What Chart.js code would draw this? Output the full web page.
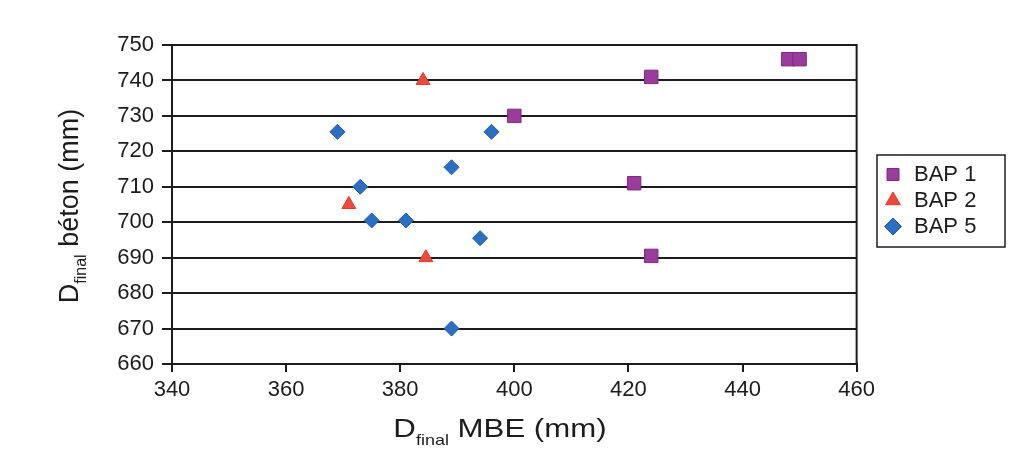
<!DOCTYPE html>
<html>
<head>
<meta charset="utf-8">
<script src="https://cdn.jsdelivr.net/npm/chart.js@4"></script>
<style>
  body { margin: 0; background: #fff; }
  #wrap { width: 1016px; height: 452px; }
</style>
</head>
<body>
<div id="wrap"><canvas id="chart" width="1016" height="452"></canvas></div>
<script>
const bap1X = [448, 450, 424, 400, 421, 424];
const bap1Y = [746, 746, 741, 730, 711, 690.5];
const bap2X = [384, 371, 384.5];
const bap2Y = [740, 705, 690];
const bap5X = [369, 396, 389, 373, 375, 381, 394, 389];
const bap5Y = [725.5, 725.5, 715.5, 710, 700.5, 700.5, 695.5, 670];
const xTicks = [340, 360, 380, 400, 420, 440, 460];
const yTicks = [660, 670, 680, 690, 700, 710, 720, 730, 740, 750];

const FONT = "'Liberation Sans', Arial, sans-serif";
const ink = "#1c1c1c";

function pts(xs, ys) {
    return xs.map((x, i) => ({ x: x, y: ys[i] }));
}

const extras = {
    id: "extras",
    afterLayout(chart) {
        // move the legend block to where it sits in the original
        const lg = chart.legend;
        const w = lg.width, h = lg.height;
        lg.left = 879; lg.right = 879 + w;
        lg.top -= 48; lg.bottom -= 48;
    },
    afterDraw(chart) {
        const ctx = chart.ctx;
        const a = chart.chartArea;
        ctx.save();
        ctx.strokeStyle = ink;
        ctx.lineWidth = 2;
        ctx.beginPath();
        ctx.moveTo(a.left, a.top);
        ctx.lineTo(a.right, a.top);
        ctx.lineTo(a.right, a.bottom);
        ctx.stroke();

        ctx.lineWidth = 1.5;
        ctx.strokeRect(877, 155, 128, 92);

        ctx.fillStyle = ink;
        ctx.textBaseline = "alphabetic";
        // x title, a bit wider like the scan
        ctx.save();
        ctx.translate(500, 437);
        ctx.scale(1.2, 1);
        drawSubTitle(ctx, "MBE (mm)", 26, 0, 0);
        ctx.restore();
        // y title
        ctx.translate(78, 206);
        ctx.rotate(-Math.PI / 2);
        drawSubTitle(ctx, "béton (mm)", 27, 0, 0);
        ctx.restore();
    }
};

function drawSubTitle(ctx, rest, size, cx, y) {
    const big = size + "px " + FONT, small = Math.round(size * 0.58) + "px " + FONT;
    ctx.font = big;
    const wD = ctx.measureText("D").width;
    const wR = ctx.measureText(" " + rest).width;
    ctx.font = small;
    const wS = ctx.measureText("final").width;
    let x = cx - (wD + wS + wR) / 2;
    ctx.textAlign = "left";
    ctx.font = big;
    ctx.fillText("D", x, y);
    x += wD;
    ctx.font = small;
    ctx.fillText("final", x, y + 8);
    x += wS;
    ctx.font = big;
    ctx.fillText(" " + rest, x, y);
}

new Chart(document.getElementById("chart"), {
    type: "scatter",
    data: {
        datasets: [
            {
                label: "BAP 1",
                data: pts(bap1X, bap1Y),
                pointStyle: "rect",
                pointRadius: 9.5,
                backgroundColor: "#9a3c9c",
                borderColor: "#7d2a80",
                borderWidth: 1
            },
            {
                label: "BAP 2",
                data: pts(bap2X, bap2Y),
                pointStyle: "triangle",
                pointRadius: 8,
                backgroundColor: "#ee4a3c",
                borderColor: "#d93a2e",
                borderWidth: 1
            },
            {
                label: "BAP 5",
                data: pts(bap5X, bap5Y),
                pointStyle: "rectRot",
                pointRadius: 7.5,
                backgroundColor: "#2b6ec2",
                borderColor: "#1f5aa8",
                borderWidth: 1
            }
        ]
    },
    options: {
        responsive: false,
        animation: false,
        layout: { padding: { top: 45, left: 0, right: 52, bottom: 0 } },
        plugins: {
            tooltip: { enabled: false },
            legend: {
                position: "right",
                align: "center",
                labels: {
                    usePointStyle: true,
                    boxHeight: 12,
                    boxWidth: 20,
                    padding: 4,
                    color: ink,
                    font: { family: FONT, size: 22 }
                }
            }
        },
        scales: {
            x: {
                type: "linear",
                min: 340,
                max: 460,
                afterFit: (s) => { s.height = 88; },
                afterBuildTicks: (s) => { s.ticks = xTicks.map(v => ({ value: v })); },
                grid: { drawOnChartArea: false, drawTicks: true, tickLength: 8, color: ink, lineWidth: 2 },
                border: { color: ink, width: 2 },
                ticks: { color: ink, padding: 5, font: { family: FONT, size: 22 } }
            },
            y: {
                type: "linear",
                min: 660,
                max: 750,
                afterFit: (s) => { s.width = 172; },
                afterBuildTicks: (s) => { s.ticks = yTicks.map(v => ({ value: v })); },
                grid: { drawOnChartArea: true, drawTicks: true, tickLength: 10, color: ink, lineWidth: 2 },
                border: { color: ink, width: 2 },
                ticks: { color: ink, padding: 8, font: { family: FONT, size: 22 } }
            }
        }
    },
    plugins: [extras]
});
</script>
</body>
</html>
